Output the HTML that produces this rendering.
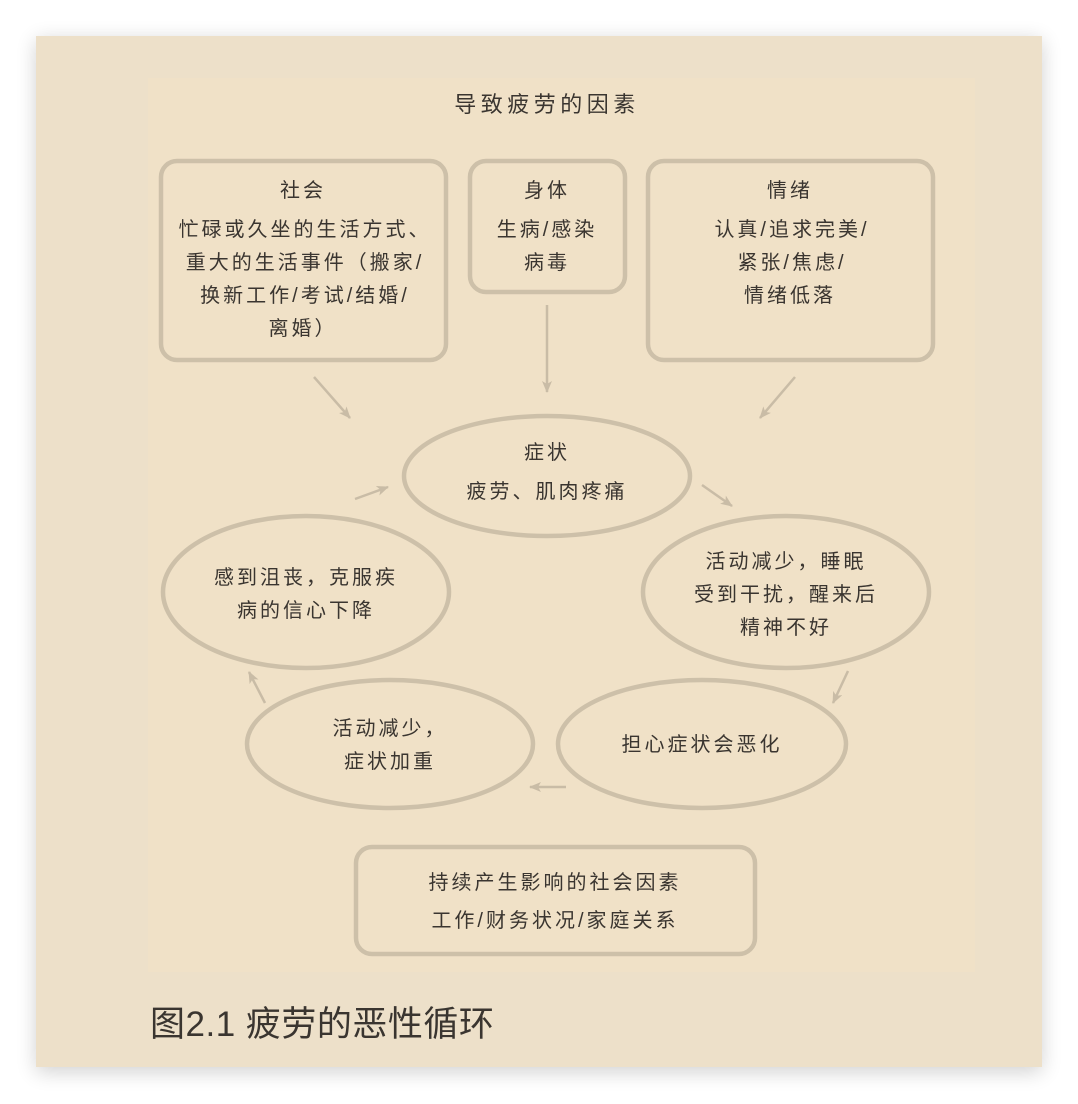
<!DOCTYPE html>
<html><head><meta charset="utf-8"><style>
body{margin:0;width:1078px;height:1104px;background:#fff;overflow:hidden}
svg{display:block}
text{font-family:"Liberation Sans","Noto Sans CJK SC",sans-serif;fill:#3a3530;text-anchor:middle;letter-spacing:3px}
</style></head><body>
<svg width="1078" height="1104" viewBox="0 0 1078 1104">
<defs>
<filter id="sh" x="-10%" y="-10%" width="120%" height="120%"><feGaussianBlur stdDeviation="10"/></filter>
<marker id="a" viewBox="0 0 12 10" refX="11" refY="5" markerWidth="12" markerHeight="10" markerUnits="userSpaceOnUse" orient="auto"><path d="M0,0 L12,5 L0,10 L3,5 Z" fill="#c9bca6"/></marker>
</defs>
<rect x="36" y="40" width="1006" height="1032" fill="#000" opacity="0.18" filter="url(#sh)"/>
<rect x="36" y="36" width="1006" height="1031" fill="#ede0c9"/>
<rect x="148" y="78" width="827" height="894" fill="#f0e1c7"/>
<g fill="none" stroke="#cdc0a9" stroke-width="4.5">
<rect x="161" y="161" width="285" height="199" rx="16"/>
<rect x="470" y="161" width="155" height="131" rx="16"/>
<rect x="648" y="161" width="285" height="199" rx="16"/>
<ellipse cx="547" cy="476" rx="143" ry="60"/>
<ellipse cx="786" cy="592" rx="143" ry="76"/>
<ellipse cx="306" cy="592" rx="143" ry="76"/>
<ellipse cx="702" cy="744" rx="144" ry="64"/>
<ellipse cx="390" cy="744" rx="143" ry="64"/>
<rect x="356" y="847" width="399" height="107" rx="16"/>
</g>
<g stroke="#c9bca6" stroke-width="2.5" marker-end="url(#a)">
<line x1="314" y1="377" x2="350" y2="418"/>
<line x1="547" y1="305" x2="547" y2="392"/>
<line x1="795" y1="377" x2="760" y2="418"/>
<line x1="702" y1="485" x2="732" y2="506"/>
<line x1="848" y1="671" x2="833" y2="703"/>
<line x1="566" y1="787" x2="530" y2="787"/>
<line x1="265" y1="703" x2="249" y2="672"/>
<line x1="355" y1="499" x2="388" y2="487"/>
</g>
<text x="547" y="112" font-size="22" style="letter-spacing:4.5px">导致疲劳的因素</text>
<g font-size="20">
<text x="303" y="197">社会</text>
<text x="305" y="236">忙碌或久坐的生活方式、</text>
<text x="305" y="269">重大的生活事件（搬家/</text>
<text x="305" y="302">换新工作/考试/结婚/</text>
<text x="303" y="335">离婚）</text>
<text x="547" y="197">身体</text>
<text x="547" y="236">生病/感染</text>
<text x="547" y="269">病毒</text>
<text x="790" y="197">情绪</text>
<text x="792" y="236">认真/追求完美/</text>
<text x="792" y="269">紧张/焦虑/</text>
<text x="790" y="302">情绪低落</text>
<text x="547" y="459">症状</text>
<text x="547" y="498">疲劳、肌肉疼痛</text>
<text x="786" y="568">活动减少，睡眠</text>
<text x="786" y="601">受到干扰，醒来后</text>
<text x="786" y="634">精神不好</text>
<text x="306" y="584">感到沮丧，克服疾</text>
<text x="306" y="617">病的信心下降</text>
<text x="702" y="751">担心症状会恶化</text>
<text x="390" y="735">活动减少，</text>
<text x="390" y="768">症状加重</text>
<text x="555" y="889">持续产生影响的社会因素</text>
<text x="555" y="927">工作/财务状况/家庭关系</text>
</g>
<text x="150" y="1036" font-size="35" style="text-anchor:start;letter-spacing:0.5px" fill="#3a3028">图2.1 疲劳的恶性循环</text>
</svg>
</body></html>
